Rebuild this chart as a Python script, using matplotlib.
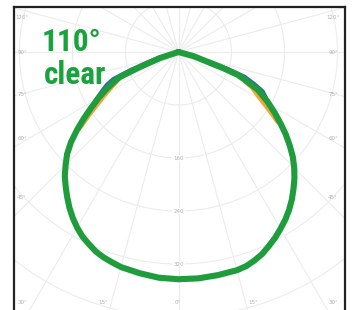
import numpy as np
import matplotlib
matplotlib.use("Agg")
import matplotlib.pyplot as plt
from matplotlib import font_manager

# ---- data (intensities) ----
# angles measured from nadir (0 = straight down); left half stored with positive angles
angles_right = [0, 5, 10, 15, 17.5, 20, 22.5, 25, 27.5, 30, 32.5, 35, 37.5, 40, 42.5, 45,
                47.5, 50, 52.5, 55, 57.7, 61.0, 64.5, 66.6, 68.9, 70.2, 71.3, 74.6, 77]
green_right = [343, 343, 342, 341, 339, 335, 330, 323, 316, 308, 300, 291, 281, 270, 259, 247,
               234, 219, 204, 188, 172, 153, 133, 114, 96, 71, 47, 23, 0]
angles_left = [0, 5, 10, 15, 17.5, 20, 22.5, 25, 27.5, 30, 32.5, 35, 37.5, 40, 42.5, 45,
               47.5, 50, 52.5, 55, 57.5, 60, 62.5, 65, 66.9, 68.7, 72.0, 76]
green_left = [343, 342, 339, 336, 333, 330, 326, 320, 314, 306, 297, 287, 276, 265, 254, 241,
              228, 212, 193, 174, 156, 140, 124, 108, 96, 62, 29, 0]

# secondary planes, only visibly different near the shoulders
blue_angles_left = [58, 61, 63, 65, 66.9, 68.7, 70, 72]
blue_left = [150, 136, 127, 118, 106, 75, 50, 29]
blue_angles_right = [60, 64.5, 66.6, 68.9, 70.2, 71.3]
blue_right = [156, 140, 124, 106, 78, 48]
orange_angles_left = [52.5, 55, 57.5, 60, 62.5, 65]
orange_left = [190, 166, 146, 130, 116, 104]
orange_angles_right = [55, 57.7, 61, 64.5, 66.6]
orange_right = [184, 162, 140, 124, 110]

ring_values = [80, 160, 240, 320, 400, 480]
ring_labels = ["160", "240", "320"]
ring_label_values = [160, 240, 320]
ray_angles = list(range(-180, 181, 15))
side_labels = ["120°", "90°", "75°", "60°", "45°", "30°"]
bottom_labels = ["30°", "15°", "0°", "15°", "30°"]

title_lines = ["110°", "clear"]

# ---- pick a condensed font if one is installed ----
names = {f.name for f in font_manager.fontManager.ttflist}
prefs = ["Liberation Sans Narrow", "Roboto Condensed", "Open Sans Condensed",
         "Noto Sans Condensed", "DejaVu Sans Condensed"]
cond = [n for n in prefs if n in names]
if not cond:
    cond = sorted(n for n in names if ("Narrow" in n or "Condensed" in n))
title_family = cond[:1] + ["DejaVu Sans"]
cond_available = bool(cond)

# ---- figure ----
W, H = 352, 310
fig = plt.figure(figsize=(W / 100, H / 100), dpi=100)
fig.patch.set_facecolor("white")

cx, cy = 178.5, 52.0        # pole in pixels
scale = 0.6625              # px per unit
L, R, T, B = 14, 345, 7, 314
ax = fig.add_axes([L / W, 1 - B / H, (R - L) / W, (B - T) / H])
ax.set_xlim((L - cx) / scale, (R - cx) / scale)
ax.set_ylim(-(B - cy) / scale, (cy - T) / scale)
ax.set_aspect("equal", adjustable="box")
ax.set_xticks([])
ax.set_yticks([])
for s in ax.spines.values():
    s.set_linewidth(1.6)
    s.set_color("#222222")

def pol(theta_deg, r, side=1):
    t = np.radians(np.asarray(theta_deg, float)) * side
    r = np.asarray(r, float)
    return r * np.sin(t), -r * np.cos(t)

grid_c = "#ececec"
phi = np.linspace(0, 360, 721)
for rv in ring_values:
    x, y = pol(phi, np.full_like(phi, rv))
    ax.plot(x, y, color=grid_c, lw=0.8, zorder=1)
for a in ray_angles:
    x, y = pol([a, a], [0, 800])
    ax.plot(x, y, color=grid_c, lw=0.8, zorder=1)

kw = dict(solid_capstyle="round", solid_joinstyle="round")
ax.plot(*pol(blue_angles_left, blue_left, -1), color="#2a6f9c", lw=4.0, zorder=3, **kw)
ax.plot(*pol(blue_angles_right, blue_right, 1), color="#2a6f9c", lw=4.0, zorder=3, **kw)
ax.plot(*pol(orange_angles_left, orange_left, -1), color="#f2a33a", lw=4.0, zorder=3, **kw)
ax.plot(*pol(orange_angles_right, orange_right, 1), color="#f2a33a", lw=4.0, zorder=3, **kw)

gx_l, gy_l = pol(angles_left, green_left, -1)
gx_r, gy_r = pol(angles_right, green_right, 1)
gx = np.concatenate([gx_l[::-1], gx_r[1:]])
gy = np.concatenate([gy_l[::-1], gy_r[1:]])
ax.plot(gx, gy, color="#1f9d3c", lw=4.4, zorder=4, **kw)

def px(xp, yp):
    return (xp - cx) / scale, (cy - yp) / scale

lab_c = "#b0b0b0"
side_y = [17, 52, 94, 138, 197, 303]
for lab, yp in zip(side_labels, side_y):
    ax.text(*px(22, yp), lab, color=lab_c, fontsize=4.0, ha="center", va="center", zorder=2)
    ax.text(*px(333, yp), lab, color=lab_c, fontsize=4.0, ha="center", va="center", zorder=2)
bottom_x = [23, 103, 178, 253, 332]
for lab, xp in zip(bottom_labels[1:4], bottom_x[1:4]):
    ax.text(*px(xp, 303), lab, color=lab_c, fontsize=4.0, ha="center", va="center", zorder=2)
for lab, v in zip(ring_labels, ring_label_values):
    ax.text(0, -v, lab, color=lab_c, fontsize=4.0, ha="center", va="center", zorder=2,
            bbox=dict(boxstyle="square,pad=0.15", fc="white", ec="none"))

tcol = "#1aa33c"
tsize = 22.5 if cond_available else 20
ax.text(*px(42, 42), title_lines[0], color=tcol, fontsize=tsize, fontweight="bold",
        family=title_family, ha="left", va="center", zorder=5)
ax.text(*px(44, 75), title_lines[1], color=tcol, fontsize=tsize, fontweight="bold",
        family=title_family, ha="left", va="center", zorder=5)

fig.savefig("out.png", dpi=100, facecolor="white")
